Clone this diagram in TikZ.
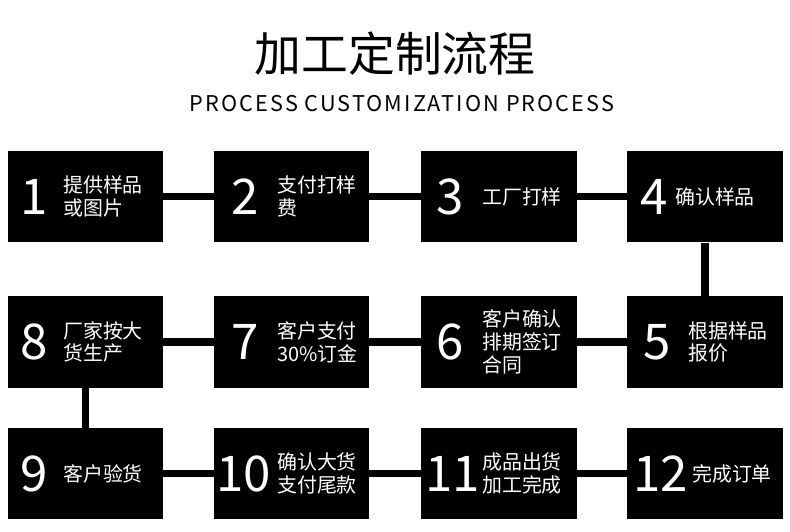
\documentclass[tikz,border=0pt]{standalone}
\usepackage{fontspec}
\setmainfont{Noto Sans CJK SC}
\newfontfamily\subfont[LetterSpace=9.5]{Noto Sans CJK SC}
\usetikzlibrary{positioning}

\begin{document}
\begin{tikzpicture}[x=0.03cm,y=-0.03cm,
  stepbox/.style={rectangle,fill=black,draw=none,minimum width=4.66cm,minimum height=2.74cm,inner sep=0pt},
  num/.style={text=white,anchor=west,inner sep=0pt,font=\fontsize{42}{42}\selectfont},
  txt/.style={text=white,anchor=west,inner sep=0pt,align=left,font=\fontsize{17}{19.5}\selectfont},
  conn/.style={line width=0.225cm,black}]
\useasboundingbox[fill=white] (0,0) rectangle (790,531);

% title
\node[font=\fontsize{40}{40}\selectfont] (title) at (395,54) {加工定制流程};
\node[font=\subfont\fontsize{18.5}{18.5}\selectfont] (sub) at (402,103.5) {PROCESS CUSTOMIZATION PROCESS};

% boxes
\node[stepbox] (b1) at (85.4,196.7) {};
\node[stepbox] (b2) at (291.5,196.7) {};
\node[stepbox] (b3) at (498.9,196.7) {};
\node[stepbox] (b4) at (704.9,196.7) {};
\node[stepbox] (b8) at (85.4,341.9) {};
\node[stepbox] (b7) at (291.5,341.9) {};
\node[stepbox] (b6) at (498.9,341.9) {};
\node[stepbox] (b5) at (704.9,341.9) {};
\node[stepbox] (b9) at (85.4,473.7) {};
\node[stepbox] (b10) at (291.5,473.7) {};
\node[stepbox] (b11) at (498.9,473.7) {};
\node[stepbox] (b12) at (704.9,473.7) {};

% connectors
\draw[conn] (b1) -- (b2);
\draw[conn] (b2) -- (b3);
\draw[conn] (b3) -- (b4);
\draw[conn] (b4) -- (b5);
\draw[conn] (b5) -- (b6);
\draw[conn] (b6) -- (b7);
\draw[conn] (b7) -- (b8);
\draw[conn] (b8) -- (b9);
\draw[conn] (b9) -- (b10);
\draw[conn] (b10) -- (b11);
\draw[conn] (b11) -- (b12);

% numbers and labels
\node[num] (n1) at (20,196.7) {1};
\node[txt] (t1) at (63,196.7) {提供样品\\或图片};
\node[num] (n2) at (231,196.7) {2};
\node[txt] (t2) at (277,196.7) {支付打样\\费};
\node[num] (n3) at (436,196.7) {3};
\node[txt] (t3) at (482,196.7) {工厂打样};
\node[num] (n4) at (640,196.7) {4};
\node[txt] (t4) at (675,196.7) {确认样品};
\node[num] (n5) at (643,341.9) {5};
\node[txt] (t5) at (688,341.9) {根据样品\\报价};
\node[num] (n6) at (436,341.9) {6};
\node[txt] (t6) at (482,341.9) {客户确认\\排期签订\\合同};
\node[num] (n7) at (231,341.9) {7};
\node[txt] (t7) at (277,341.9) {客户支付\\30\%订金};
\node[num] (n8) at (20,341.9) {8};
\node[txt] (t8) at (63,341.9) {厂家按大\\货生产};
\node[num] (n9) at (20,473.7) {9};
\node[txt] (t9) at (63,473.7) {客户验货};
\node[num] (n10) at (216,473.7) {10};
\node[txt] (t10) at (277,473.7) {确认大货\\支付尾款};
\node[num] (n11) at (425,473.7) {11};
\node[txt] (t11) at (482,473.7) {成品出货\\加工完成};
\node[num] (n12) at (633,473.7) {12};
\node[txt] (t12) at (692,473.7) {完成订单};

\end{tikzpicture}
\end{document}
